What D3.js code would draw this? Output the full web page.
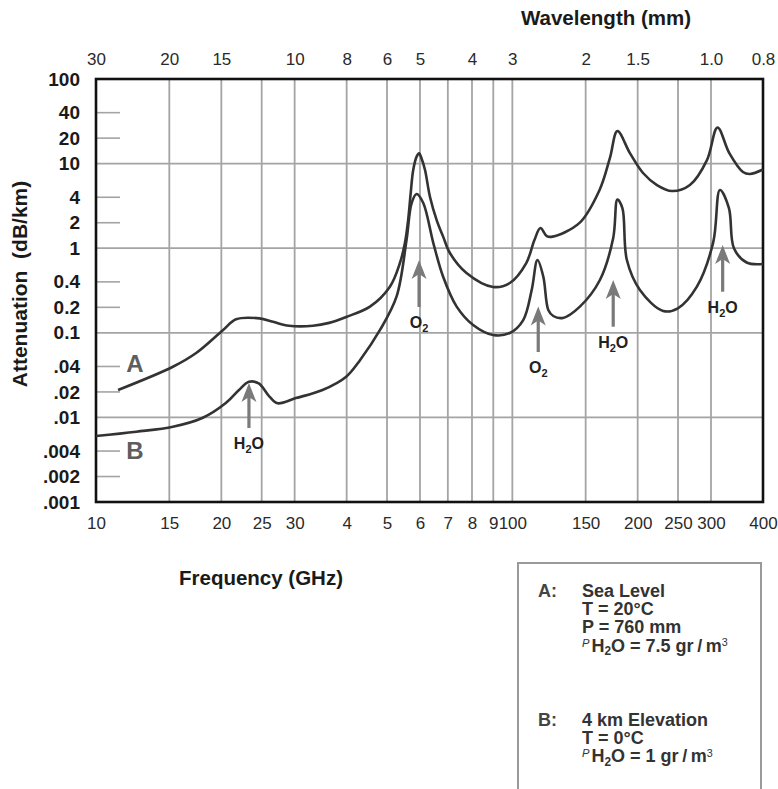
<!DOCTYPE html>
<html>
<head>
<meta charset="utf-8">
<script src="https://cdn.jsdelivr.net/npm/d3@7"></script>
<style>
  html, body { margin: 0; padding: 0; background: #fff; }
  svg { display: block; font-family: "Liberation Sans", Arial, Helvetica, sans-serif; }
</style>
</head>
<body>
<svg id="chart" width="778" height="789"></svg>
<script>
// ---- Frequency axis (GHz); the 40..90 GHz gridlines are labelled 4..9
const freqTicks = [10, 15, 20, 25, 30, 40, 50, 60, 70, 80, 90, 100, 150, 200, 250, 300, 400];
const freqTickLabels = ["10", "15", "20", "25", "30", "4", "5", "6", "7", "8", "9", "100", "150", "200", "250", "300", "400"];

// ---- Wavelength axis (mm), written over the frequency gridlines
const wavelengthTickFreqs = [10, 15, 20, 30, 40, 50, 60, 80, 100, 150, 200, 300, 400];
const wavelengthTickLabels = ["30", "20", "15", "10", "8", "6", "5", "4", "3", "2", "1.5", "1.0", "0.8"];

// ---- Attenuation axis (dB/km)
const attenTicks = [100, 40, 20, 10, 4, 2, 1, 0.4, 0.2, 0.1, 0.04, 0.02, 0.01, 0.004, 0.002, 0.001];
const attenTickLabels = ["100", "40", "20", "10", "4", "2", "1", "0.4", "0.2", "0.1", ".04", ".02", ".01", ".004", ".002", ".001"];
const attenGrid = [10, 1, 0.1, 0.01];

// ---- Curve A: sea level, T = 20 C, 7.5 g/m3 water vapour
const curveAFreq = [11.3, 15.3, 17.4, 20.2, 21.7, 24.7, 26.6, 29.1, 33.2, 36.3, 39.9, 45.5, 50.8, 53.7,
  55.2, 56.2, 57.0, 57.8, 58.9, 59.7, 60.5, 61.7, 63.4, 65.8, 68.2, 70.8, 77.6, 89.9, 98.6, 108,
  113, 116.8, 121, 125, 145, 162, 171.5, 178.8, 191.6, 206, 222.5, 241.7, 267, 293.4, 311, 332,
  358, 372, 400];
const curveAAtten = [0.0211, 0.0397, 0.0577, 0.108, 0.1445, 0.148, 0.135, 0.121, 0.121, 0.131, 0.154, 0.204, 0.351, 0.668,
  1.15, 2.15, 4.49, 8.4, 12.1, 13.2, 11.6, 8.4, 4.06, 2.15, 1.37, 0.877, 0.509, 0.348, 0.388, 0.668,
  1.25, 1.73, 1.39, 1.37, 1.99, 4.88, 11.6, 24.3, 13.3, 7.74, 5.58, 4.74, 5.58, 11.0, 26.7, 13.3,
  7.96, 7.54, 8.51];

// ---- Curve B: 4 km elevation, T = 0 C, 1 g/m3 water vapour
const curveBFreq = [10, 12.5, 15.3, 18.0, 20.5, 22.05, 23.3, 24.6, 26.1, 27.3, 30.2, 35.0, 39.9, 43.1,
  48.1, 52.7, 55.7, 57.3, 58.9, 61.1, 64.6, 68.2, 73.5, 80.5, 89.9, 98.6, 106.2, 111.3, 114.9,
  118.7, 122, 125.4, 132.3, 145.3, 162.3, 174.7, 178.8, 183.8, 188.4, 202.5, 230.3, 249.8, 277.5,
  303.8, 315.2, 331.3, 340.6, 365.3, 400];
const curveBAtten = [0.00603, 0.00678, 0.00776, 0.00984, 0.0148, 0.0211, 0.0264, 0.0252, 0.0176, 0.0147, 0.0169, 0.0211, 0.0303, 0.0478,
  0.108, 0.267, 1.25, 3.42, 4.37, 3.42, 1.15, 0.46, 0.204, 0.1236, 0.0942, 0.0995, 0.1415, 0.321, 0.725,
  0.46, 0.186, 0.158, 0.150, 0.204, 0.421, 1.32, 3.77, 2.98, 0.725, 0.321, 0.181, 0.195, 0.351,
  1.18, 4.88, 2.98, 1.0, 0.678, 0.65];

// ---- Absorption lines marked with arrows
const lineFreq = [23.3, 59.7, 115.4, 174.7, 320];
const lineTip = [0.0255, 0.726, 0.204, 0.421, 1.09];
const lineTail = [0.0075, 0.202, 0.0593, 0.118, 0.306];
const lineGas = ["H2O", "O2", "O2", "H2O", "H2O"];

// ---- Curve names
const curveNames = ["A", "B"];
const curveNameFreq = [12.4, 12.4];
const curveNameAtten = [0.0344, 0.00322];

// ---- Conditions box
const legendKeys = ["A:", "B:"];
const legendLinesA = ["Sea Level", "T = 20\u00B0C", "P = 760 mm", "rho:7.5"];
const legendLinesB = ["4 km Elevation", "T = 0\u00B0C", "rho:1"];

const svg = d3.select("#chart");
const plotLeft = 96, plotRight = 763, plotTop = 79, plotBottom = 502;

const x = d3.scaleLog().domain([10, 400]).range([plotLeft, plotRight]);
const y = d3.scaleLog().domain([0.001, 100]).range([plotBottom, plotTop]);

const gridColor = "#a4a4a4";

// vertical gridlines
svg.append("g")
  .selectAll("line")
  .data(freqTicks.filter(f => f > 10 && f < 400))
  .join("line")
  .attr("x1", d => x(d)).attr("x2", d => x(d))
  .attr("y1", plotTop).attr("y2", plotBottom)
  .attr("stroke", gridColor).attr("stroke-width", 1.8);

// horizontal decade gridlines
svg.append("g")
  .selectAll("line")
  .data(attenGrid)
  .join("line")
  .attr("x1", plotLeft).attr("x2", plotRight)
  .attr("y1", d => y(d)).attr("y2", d => y(d))
  .attr("stroke", gridColor).attr("stroke-width", 1.8);

// short inner ticks for the intermediate attenuation values
svg.append("g")
  .selectAll("line")
  .data(attenTicks.filter(v => !attenGrid.includes(v) && v < 100 && v > 0.001))
  .join("line")
  .attr("x1", plotLeft).attr("x2", plotLeft + 24)
  .attr("y1", d => y(d)).attr("y2", d => y(d))
  .attr("stroke", gridColor).attr("stroke-width", 1.6);

// bottom axis: frequency
const xAxis = d3.axisBottom(x)
  .tickValues(freqTicks)
  .tickSize(0)
  .tickPadding(15)
  .tickFormat((d, i) => freqTickLabels[i]);
const gx = svg.append("g").attr("transform", `translate(0,${plotBottom})`).call(xAxis);
gx.select(".domain").remove();
gx.selectAll("text")
  .attr("font-family", "Liberation Sans, Arial, sans-serif")
  .attr("font-size", 17).attr("fill", "#2a2a2a");

// top axis: wavelength
const xTop = d3.axisTop(x)
  .tickValues(wavelengthTickFreqs)
  .tickSize(0)
  .tickPadding(14)
  .tickFormat((d, i) => wavelengthTickLabels[i]);
const gt = svg.append("g").attr("transform", `translate(0,${plotTop})`).call(xTop);
gt.select(".domain").remove();
gt.selectAll("text")
  .attr("font-family", "Liberation Sans, Arial, sans-serif")
  .attr("font-size", 17).attr("fill", "#2a2a2a");

// left axis: attenuation
const yAxis = d3.axisLeft(y)
  .tickValues(attenTicks)
  .tickSize(0)
  .tickPadding(16)
  .tickFormat((d, i) => attenTickLabels[i]);
const gy = svg.append("g").attr("transform", `translate(${plotLeft},0)`).call(yAxis);
gy.select(".domain").remove();
gy.selectAll("text")
  .attr("font-family", "Liberation Sans, Arial, sans-serif")
  .attr("font-size", 19).attr("font-weight", "bold").attr("fill", "#1a1a1a");

// plot frame
svg.append("rect")
  .attr("x", plotLeft).attr("y", plotTop)
  .attr("width", plotRight - plotLeft).attr("height", plotBottom - plotTop)
  .attr("fill", "none").attr("stroke", "#111").attr("stroke-width", 2.6);

// attenuation curves
const line = d3.line()
  .x(d => x(d[0]))
  .y(d => y(d[1]))
  .curve(d3.curveCatmullRom.alpha(0.5));

const curves = [
  d3.zip(curveAFreq, curveAAtten),
  d3.zip(curveBFreq, curveBAtten)
];
svg.append("g")
  .selectAll("path")
  .data(curves)
  .join("path")
  .attr("d", line)
  .attr("fill", "none")
  .attr("stroke", "#333")
  .attr("stroke-width", 2.6)
  .attr("stroke-linejoin", "round");

// curve names
svg.append("g")
  .selectAll("text")
  .data(curveNames)
  .join("text")
  .attr("x", (d, i) => x(curveNameFreq[i]))
  .attr("y", (d, i) => y(curveNameAtten[i]))
  .attr("text-anchor", "middle")
  .attr("font-size", 24).attr("font-weight", "bold")
  .attr("fill", "#5e5e5e")
  .text(d => d);

// gas formula with subscript
function writeFormula(textSel, gas, size) {
  const sub = Math.round(size * 0.68);
  if (gas === "H2O") {
    textSel.append("tspan").text("H");
    textSel.append("tspan").attr("font-size", sub).attr("dy", size * 0.28).text("2");
    textSel.append("tspan").attr("dy", -size * 0.28).text("O");
  } else {
    textSel.append("tspan").text("O");
    textSel.append("tspan").attr("font-size", sub).attr("dy", size * 0.28).text("2");
  }
}

// arrows pointing at absorption lines
const arrowColor = "#7a7a7a";
const arrows = svg.append("g");
lineFreq.forEach((f, i) => {
  const ax = x(f), yTip = y(lineTip[i]), yTail = y(lineTail[i]);
  arrows.append("line")
    .attr("x1", ax).attr("x2", ax)
    .attr("y1", yTip + 12).attr("y2", yTail)
    .attr("stroke", arrowColor).attr("stroke-width", 3.2);
  arrows.append("path")
    .attr("d", `M${ax},${yTip} L${ax + 7.5},${yTip + 19} L${ax},${yTip + 14} L${ax - 7.5},${yTip + 19} Z`)
    .attr("fill", arrowColor);
  const t = arrows.append("text")
    .attr("x", ax).attr("y", yTail + 21)
    .attr("text-anchor", "middle")
    .attr("font-size", 16).attr("font-weight", "bold")
    .attr("fill", "#222");
  writeFormula(t, lineGas[i], 16);
});

// axis titles
const titleSize = 20.5;
svg.append("text")
  .attr("x", 606).attr("y", 25)
  .attr("text-anchor", "middle")
  .attr("font-size", titleSize).attr("font-weight", "bold").attr("fill", "#1a1a1a")
  .text("Wavelength (mm)");

svg.append("text")
  .attr("x", 261).attr("y", 585)
  .attr("text-anchor", "middle")
  .attr("font-size", titleSize).attr("font-weight", "bold").attr("fill", "#1a1a1a")
  .text("Frequency (GHz)");

svg.append("text")
  .attr("transform", "translate(27,284) rotate(-90)")
  .attr("text-anchor", "middle")
  .attr("font-size", 21).attr("font-weight", "bold").attr("fill", "#1a1a1a")
  .text("Attenuation\u00A0\u00A0(dB/km)");

// conditions box
svg.append("rect")
  .attr("x", 518).attr("y", 563)
  .attr("width", 243).attr("height", 240)
  .attr("fill", "none").attr("stroke", "#9a9a9a").attr("stroke-width", 2);

function writeLegendLine(textSel, s, size) {
  if (s.startsWith("rho:")) {
    const val = s.slice(4);
    textSel.append("tspan").attr("font-size", size * 0.62).attr("font-style", "italic")
      .attr("font-weight", "normal").attr("dy", -size * 0.28).text("P");
    textSel.append("tspan").attr("dy", size * 0.28).attr("dx", 2).text("H");
    textSel.append("tspan").attr("font-size", size * 0.66).attr("dy", size * 0.2).text("2");
    textSel.append("tspan").attr("dy", -size * 0.2).text(`O = ${val} gr\u2009/\u2009m`);
    textSel.append("tspan").attr("font-size", size * 0.6).attr("font-weight", "normal")
      .attr("dy", -size * 0.3).text("3");
  } else {
    textSel.text(s);
  }
}

const legendRows = [
  { key: legendKeys[0], lines: legendLinesA, base: 597 },
  { key: legendKeys[1], lines: legendLinesB, base: 726 }
];
const legendSize = 18;
legendRows.forEach(row => {
  svg.append("text")
    .attr("x", 538).attr("y", row.base)
    .attr("font-size", legendSize).attr("font-weight", "bold").attr("fill", "#444")
    .text(row.key);
  row.lines.forEach((s, j) => {
    const t = svg.append("text")
      .attr("x", 582).attr("y", row.base + j * 18.2)
      .attr("font-size", legendSize).attr("font-weight", "bold").attr("fill", "#333");
    writeLegendLine(t, s, legendSize);
  });
});
</script>
</body>
</html>
